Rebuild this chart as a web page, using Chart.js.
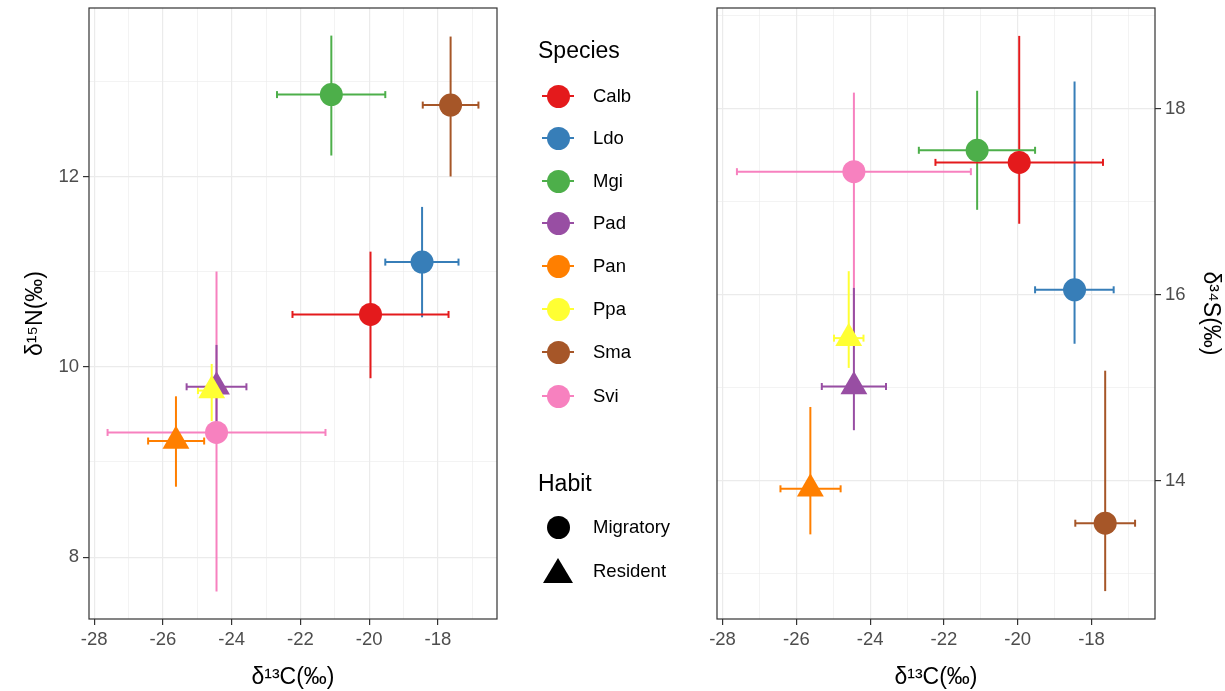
<!DOCTYPE html>
<html>
<head>
<meta charset="utf-8">
<script src="https://cdn.jsdelivr.net/npm/chart.js@4.4.1/dist/chart.umd.min.js"></script>
<style>
html,body{margin:0;padding:0;background:#fff;}
body{width:1225px;height:691px;position:relative;overflow:hidden;font-family:"Liberation Sans",Arial,Helvetica,sans-serif;}
canvas{position:absolute;top:0;}
#c13n15{left:0;}
#c13s34{left:700px;}
#legend{position:absolute;left:538px;top:0;width:170px;height:691px;}
.lg-title{position:absolute;left:0;font-size:23px;line-height:1;color:#000;transform:translateY(-50%);white-space:nowrap;}
.lg-label{position:absolute;left:55px;font-size:18.5px;line-height:1;color:#000;transform:translateY(-50%);white-space:nowrap;}
.lg-key{position:absolute;left:4px;width:32px;height:26px;transform:translateY(-50%);}
.lg-key .bar{position:absolute;left:0;right:0;top:12px;height:2px;}
.lg-key .dot{position:absolute;left:4.5px;top:1.5px;width:23px;height:23px;border-radius:50%;}
.lg-key .tri{position:absolute;left:1px;top:0;width:0;height:0;border-left:15px solid transparent;border-right:15px solid transparent;border-bottom:25px solid #000;}
</style>
</head>
<body>
<canvas id="c13n15" width="510" height="691"></canvas>
<canvas id="c13s34" width="525" height="691"></canvas>
<div id="legend"></div>
<script>
// ── data ──
const species=['Calb','Ldo','Mgi','Pad','Pan','Ppa','Sma','Svi'];
const habit=['Migratory','Migratory','Migratory','Resident','Resident','Resident','Migratory','Migratory'];
const habitLevels=['Migratory','Resident'];
const speciesColors=['#E41A1C','#377EB8','#4DAF4A','#984EA3','#FF7F00','#FFFF33','#A65628','#F781BF'];

const c13Mean=[-19.96,-18.46,-21.10,-24.44,-25.62,-24.58,-17.63,-24.44];
const c13Low =[-22.23,-19.53,-22.68,-25.31,-26.43,-24.98,-18.44,-27.61];
const c13High=[-17.69,-17.40,-19.53,-23.57,-24.80,-24.18,-16.82,-21.27];

const n15Mean=[10.55,11.10,12.86,9.79,9.22,9.75,12.75,9.31];
const n15Low =[9.88,10.52,12.22,9.36,8.74,9.43,12.00,7.64];
const n15High=[11.21,11.68,13.48,10.23,9.69,10.03,13.47,11.00];

const s34Mean=[17.42,16.05,17.55,15.01,13.91,15.53,13.54,17.32];
const s34Low =[16.76,15.47,16.91,14.54,13.42,15.21,12.81,15.62];
const s34High=[18.78,18.29,18.19,16.07,14.79,16.25,15.18,18.17];

const xMajorTicks=[-28,-26,-24,-22,-20,-18];
const xMinorTicks=[-27,-25,-23,-21,-19,-17];
const n15MajorTicks=[8,10,12];
const n15MinorTicks=[9,11,13];
const s34MajorTicks=[14,16,18];
const s34MinorTicks=[13,15,17,19];

const xRange=[-28.15,-16.28];
const n15Range=[7.35,13.77];
const s34Range=[12.51,19.08];

// ── helpers ──
const FONT='"Liberation Sans", Arial, Helvetica, sans-serif';
Chart.defaults.font.family=FONT;
Chart.defaults.animation=false;

const panelBorder={id:'panelBorder',afterDatasetsDraw(chart){
  const {ctx,chartArea:a}=chart;
  ctx.save();ctx.strokeStyle='#333333';ctx.lineWidth=1.2;
  ctx.strokeRect(a.left,a.top,a.right-a.left,a.bottom-a.top);
  ctx.restore();
}};

function buildDatasets(yMean,yLow,yHigh){
  const ds=[];
  species.forEach((sp,i)=>{
    const col=speciesColors[i];
    ds.push({label:sp+'-v',data:[{x:c13Mean[i],y:yLow[i]},{x:c13Mean[i],y:yHigh[i]}],
      showLine:true,borderColor:col,borderWidth:2,pointRadius:0,order:2});
    ds.push({label:sp+'-h',data:[{x:c13Low[i],y:yMean[i]},{x:c13High[i],y:yMean[i]}],
      showLine:true,borderColor:col,borderWidth:2,pointStyle:'line',pointRotation:90,
      pointRadius:3.5,pointBorderWidth:2,pointBorderColor:col,pointBackgroundColor:col,order:1});
  });
  ds.push({label:'points',data:species.map((s,i)=>({x:c13Mean[i],y:yMean[i]})),
    pointStyle:habit.map(h=>h==='Migratory'?'circle':'triangle'),
    pointRadius:habit.map(h=>h==='Migratory'?11.5:15.5),
    pointBackgroundColor:speciesColors,pointBorderWidth:0,order:0});
  return ds;
}

function axis(major,minor,range,pos,title,titlePad,fitSize){
  const all=[...major,...minor].sort((a,b)=>a-b);
  const isMajor=v=>major.includes(v);
  return {
    type:'linear',position:pos,min:range[0],max:range[1],
    afterBuildTicks:s=>{s.ticks=all.map(v=>({value:v}));},
    afterFit:s=>{
      if(pos==='bottom')s.height=fitSize;else s.width=fitSize;
      s.paddingTop=0;s.paddingBottom=0;s.paddingLeft=0;s.paddingRight=0;
    },
    border:{display:false},
    grid:{color:'#EBEBEB',lineWidth:c=>c.tick&&isMajor(c.tick.value)?1.2:0.6,
      tickLength:6,tickWidth:1.2,tickColor:c=>c.tick&&isMajor(c.tick.value)?'#333333':'rgba(0,0,0,0)'},
    ticks:{autoSkip:false,maxRotation:0,padding:4,color:'#4D4D4D',font:{size:18.5},
      callback:v=>isMajor(v)?String(v):''},
    title:{display:true,text:title,color:'#000',font:{size:23},padding:{top:titlePad,bottom:0}}
  };
}

// ── δ13C vs δ15N ──
new Chart(document.getElementById('c13n15'),{
  type:'scatter',
  data:{datasets:buildDatasets(n15Mean,n15Low,n15High)},
  options:{responsive:false,events:[],
    layout:{autoPadding:false,padding:{left:0,top:8,right:13,bottom:0}},
    plugins:{legend:{display:false},tooltip:{enabled:false}},
    scales:{
      x:axis(xMajorTicks,xMinorTicks,xRange,'bottom','δ¹³C(‰)',0,72),
      y:axis(n15MajorTicks,n15MinorTicks,n15Range,'left','δ¹⁵N(‰)',22,89)
    }},
  plugins:[panelBorder]
});

// ── δ13C vs δ34S ──
new Chart(document.getElementById('c13s34'),{
  type:'scatter',
  data:{datasets:buildDatasets(s34Mean,s34Low,s34High)},
  options:{responsive:false,events:[],
    layout:{autoPadding:false,padding:{left:17,top:8,right:0,bottom:0}},
    plugins:{legend:{display:false},tooltip:{enabled:false}},
    scales:{
      x:axis(xMajorTicks,xMinorTicks,xRange,'bottom','δ¹³C(‰)',0,72),
      y:axis(s34MajorTicks,s34MinorTicks,s34Range,'right','δ³⁴S(‰)',1,70)
    }},
  plugins:[panelBorder]
});

// ── legend ──
const lg=document.getElementById('legend');
const speciesRowY=[96,138,181,223,266,309,352,396];
const habitRowY=[527,571];
let html='<div class="lg-title" style="top:50px">Species</div>';
species.forEach((s,i)=>{
  html+=`<div class="lg-key" style="top:${speciesRowY[i]}px"><div class="bar" style="background:${speciesColors[i]}"></div><div class="dot" style="background:${speciesColors[i]}"></div></div>`;
  html+=`<div class="lg-label" style="top:${speciesRowY[i]}px">${s}</div>`;
});
html+='<div class="lg-title" style="top:483px">Habit</div>';
habitLevels.forEach((h,i)=>{
  const key=h==='Migratory'?'<div class="dot" style="background:#000"></div>':'<div class="tri"></div>';
  html+=`<div class="lg-key" style="top:${habitRowY[i]}px">${key}</div>`;
  html+=`<div class="lg-label" style="top:${habitRowY[i]}px">${h}</div>`;
});
lg.innerHTML=html;
</script>
</body>
</html>
